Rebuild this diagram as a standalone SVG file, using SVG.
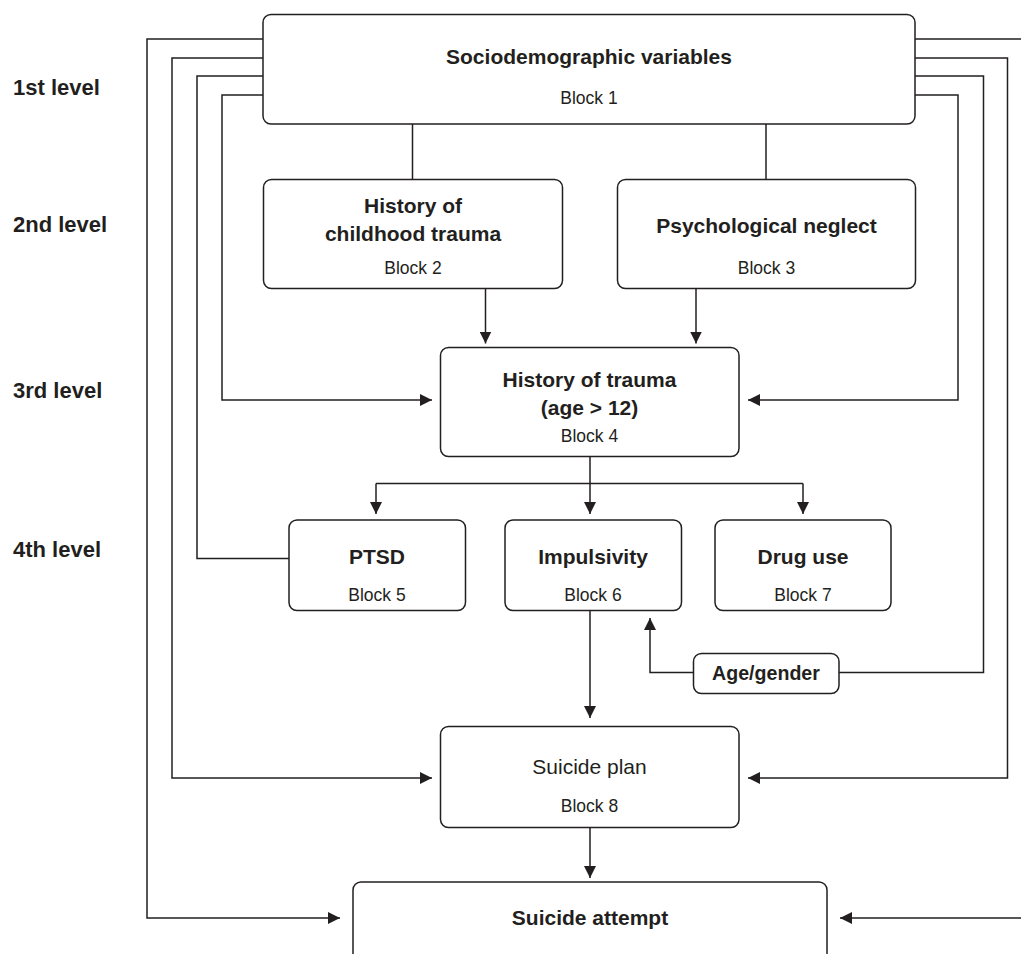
<svg xmlns="http://www.w3.org/2000/svg" width="1021" height="954" viewBox="0 0 1021 954">
<defs>
<marker id="arr" viewBox="0 0 12 12" refX="12" refY="6" markerWidth="12" markerHeight="12" markerUnits="userSpaceOnUse" orient="auto">
<path d="M0,0 L12,6 L0,12 Z" fill="#231f20"/>
</marker>
<style>
.box{fill:#fff;stroke:#231f20;stroke-width:1.5}
.ln{fill:none;stroke:#231f20;stroke-width:1.5}
.ar{fill:none;stroke:#231f20;stroke-width:1.5;marker-end:url(#arr)}
text{font-family:"Liberation Sans",Arial,sans-serif;fill:#231f20;text-anchor:middle}
.t{font-size:21px;font-weight:bold}
.b{font-size:17.5px}
.lv{font-size:22px;font-weight:bold;text-anchor:start}
</style>
</defs>
<rect width="1021" height="954" fill="#fff"/>
<g id="levels">
<text class="lv" x="13" y="95">1st level</text>
<text class="lv" x="13" y="232">2nd level</text>
<text class="lv" x="13" y="398">3rd level</text>
<text class="lv" x="13" y="557">4th level</text>
</g>
<g id="connectors">
<path class="ar" d="M263,39 H147 V918 H340"/>
<path class="ar" d="M263,58 H172 V778 H432"/>
<path class="ln" d="M263,76 H197 V558.5 H289"/>
<path class="ar" d="M263,95 H222 V400 H432"/>
<path class="ar" d="M915,39 H1035 V918 H840"/>
<path class="ar" d="M915,58 H1007.5 V778 H748"/>
<path class="ln" d="M915,76 H983.5 V672.5 H839"/>
<path class="ar" d="M915,95 H958 V400 H748"/>
<path class="ln" d="M412.5,124 V179"/>
<path class="ln" d="M766,124 V179"/>
<path class="ar" d="M485.5,289 V343.5"/>
<path class="ar" d="M696,289 V343.5"/>
<path class="ln" d="M590,457 V483.5"/>
<path class="ln" d="M376,483.5 H803"/>
<path class="ar" d="M376,483.5 V514"/>
<path class="ar" d="M590,483.5 V514"/>
<path class="ar" d="M803,483.5 V514"/>
<path class="ar" d="M590,611 V718"/>
<path class="ar" d="M693,672.5 H650 V618"/>
<path class="ar" d="M590,828 V878"/>
</g>
<g id="block1">
<rect class="box" x="263" y="14.5" width="652" height="109.5" rx="8"/>
<text class="t" x="589" y="64">Sociodemographic variables</text>
<text class="b" x="589" y="104">Block 1</text>
</g>
<g id="block2">
<rect class="box" x="263.5" y="179.5" width="299" height="109" rx="8"/>
<text class="t" x="413" y="213">History of</text>
<text class="t" x="413" y="241">childhood trauma</text>
<text class="b" x="413" y="274">Block 2</text>
</g>
<g id="block3">
<rect class="box" x="617.5" y="179.5" width="298" height="109" rx="8"/>
<text class="t" x="766.5" y="233">Psychological neglect</text>
<text class="b" x="766.5" y="274">Block 3</text>
</g>
<g id="block4">
<rect class="box" x="440.5" y="347.5" width="298.5" height="109" rx="8"/>
<text class="t" x="589.5" y="387">History of trauma</text>
<text class="t" x="589.5" y="415">(age &gt; 12)</text>
<text class="b" x="589.5" y="442">Block 4</text>
</g>
<g id="block5">
<rect class="box" x="289" y="520" width="176.5" height="90.5" rx="8"/>
<text class="t" x="377" y="564">PTSD</text>
<text class="b" x="377" y="601">Block 5</text>
</g>
<g id="block6">
<rect class="box" x="505" y="520" width="176.5" height="90.5" rx="8"/>
<text class="t" x="593" y="564">Impulsivity</text>
<text class="b" x="593" y="601">Block 6</text>
</g>
<g id="block7">
<rect class="box" x="715" y="520" width="176" height="90.5" rx="8"/>
<text class="t" x="803" y="564">Drug use</text>
<text class="b" x="803" y="601">Block 7</text>
</g>
<g id="agegender">
<rect class="box" x="693.5" y="653.5" width="145.5" height="40" rx="8"/>
<text class="t" x="766" y="680" style="font-size:19.6px">Age/gender</text>
</g>
<g id="block8">
<rect class="box" x="440.5" y="726.5" width="298.5" height="101" rx="8"/>
<text x="589.5" y="774" style="font-size:21px">Suicide plan</text>
<text class="b" x="589.5" y="812">Block 8</text>
</g>
<g id="attempt">
<rect class="box" x="353" y="882" width="474" height="110" rx="8"/>
<text class="t" x="590" y="925">Suicide attempt</text>
</g>
</svg>
